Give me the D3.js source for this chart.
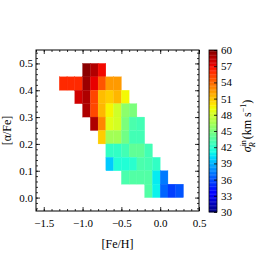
<!DOCTYPE html>
<html>
<head>
<meta charset="utf-8">
<script src="https://cdn.jsdelivr.net/npm/d3@7"></script>
<style>
  body { margin: 0; background: #fff; }
  svg text { font-family: "Liberation Serif", "DejaVu Serif", serif; fill: #000; }
</style>
</head>
<body>
<svg id="chart"></svg>
<script>
// bins: left edge of [Fe/H] bins (width 0.1), lower edge of [alpha/Fe] bins (width 0.05)
const fehBins = [-1.3, -1.2, -1.1, -1.0, -0.9, -0.8, -0.7, -0.6, -0.5, -0.4, -0.3, -0.2, -0.1, 0.0, 0.1, 0.2];
const alphaBins = [0.45, 0.40, 0.35, 0.30, 0.25, 0.20, 0.15, 0.10, 0.05, 0.00];
const _ = null;
// sigma_R^in (km/s), one row per alpha bin, one column per feh bin
const sigmaRows = [
  [_, _, _, 59.7, 58.7, 57.0, _, _, _, _, _, _, _, _, _, _],
  [56.0, 56.0, 56.0, 59.3, 57.3, 54.6, 52.4, 52.4, _, _, _, _, _, _, _, _],
  [_, _, 57.9, 58.8, 55.1, 51.3, 50.8, 51.5, 49.4, _, _, _, _, _, _, _],
  [_, _, _, 58.8, 55.0, 51.5, 49.5, 48.0, 45.6, 45.0, _, _, _, _, _, _],
  [_, _, _, _, 58.8, 53.0, 48.7, 48.2, 45.0, 43.2, 42.9, _, _, _, _, _],
  [_, _, _, _, _, 50.8, 46.4, 46.4, 44.6, 42.9, 42.9, _, _, _, _, _],
  [_, _, _, _, _, _, 42.3, 42.3, 42.9, 44.0, 44.0, 42.9, _, _, _, _],
  [_, _, _, _, _, _, 39.7, 41.7, 41.7, 42.0, 43.2, 43.0, 42.3, _, _, _],
  [_, _, _, _, _, _, _, _, 43.2, 43.5, 43.5, 43.5, 40.7, 37.3, _, _],
  [_, _, _, _, _, _, _, _, _, _, _, 43.5, 40.9, 36.7, 35.6, 36.2]
];
const xTicks = [-1.5, -1.0, -0.5, 0.0, 0.5];
const yTicks = [0.0, 0.1, 0.2, 0.3, 0.4, 0.5];
const cbTicks = [30, 33, 36, 39, 42, 45, 48, 51, 54, 57, 60];

const W = 266, H = 262;
const L = 36, R = 199, T = 50, B = 211;
const svg = d3.select('#chart').attr('width', W).attr('height', H);

const x = d3.scaleLinear().domain([-1.6, 0.5]).range([L, R]);
const y = d3.scaleLinear().domain([-0.05, 0.55]).range([B, T]);

// matplotlib jet
const jr = d3.scaleLinear().domain([0, 0.35, 0.66, 0.89, 1]).range([0, 0, 1, 1, 0.5]).clamp(true);
const jg = d3.scaleLinear().domain([0, 0.125, 0.375, 0.64, 0.91, 1]).range([0, 0, 1, 1, 0, 0]).clamp(true);
const jb = d3.scaleLinear().domain([0, 0.11, 0.34, 0.65, 1]).range([0.5, 1, 1, 0, 0]).clamp(true);
const jet = t => d3.rgb(jr(t) * 255, jg(t) * 255, jb(t) * 255).formatHex();
const color = d3.scaleSequential(jet).domain([30, 60]);

const cells = [];
sigmaRows.forEach((row, i) => row.forEach((v, j) => {
  if (v !== null) cells.push({ feh: fehBins[j], alpha: alphaBins[i], v: v });
}));

svg.append('g').selectAll('rect')
  .data(cells)
  .enter()
  .append('rect')
  .attr('x', d => x(d.feh))
  .attr('y', d => y(d.alpha + 0.05))
  .attr('width', d => x(d.feh + 0.1) - x(d.feh))
  .attr('height', d => y(d.alpha) - y(d.alpha + 0.05))
  .attr('fill', d => color(d.v))
  .attr('stroke', d => color(d.v))
  .attr('stroke-width', 0.3);

// axes with inward ticks on all sides
const fmt = d3.format('.1f');
const xMinor = d3.range(-1.6, 0.51, 0.1).map(v => +v.toFixed(2));
const yMinor = d3.range(-0.04, 0.551, 0.02).map(v => +v.toFixed(2));

function tickSet(axisFn, scale, major, minor, tf, pos) {
  svg.append('g').attr('transform', pos)
    .call(axisFn(scale).tickValues(minor).tickSize(-2).tickFormat(''))
    .call(g => g.select('.domain').remove());
  return svg.append('g').attr('transform', pos)
    .call(axisFn(scale).tickValues(major).tickSize(-4).tickPadding(8).tickFormat(tf))
    .call(g => g.select('.domain').remove());
}
const gx = tickSet(d3.axisBottom, x, xTicks, xMinor, fmt, `translate(0,${B})`);
tickSet(d3.axisTop, x, xTicks, xMinor, '', `translate(0,${T})`);
const gy = tickSet(d3.axisLeft, y, yTicks, yMinor, fmt, `translate(${L},0)`);
tickSet(d3.axisRight, y, yTicks, yMinor, '', `translate(${R},0)`);
svg.selectAll('.tick line').attr('stroke', '#000').attr('stroke-width', 0.8);
gx.selectAll('text').attr('font-size', 11).attr('dy', '0.71em');
gy.selectAll('text').attr('font-size', 11).attr('x', -3);

svg.append('rect')
  .attr('x', L).attr('y', T).attr('width', R - L).attr('height', B - T)
  .attr('fill', 'none').attr('stroke', '#000').attr('stroke-width', 1);

svg.append('text')
  .attr('x', (L + R) / 2).attr('y', 248)
  .attr('text-anchor', 'middle').attr('font-size', 12)
  .text('[Fe/H]');
svg.append('text')
  .attr('transform', `translate(11,${(T + B) / 2}) rotate(-90)`)
  .attr('text-anchor', 'middle').attr('font-size', 12)
  .text('[α/Fe]');

// colorbar
const cbX = 209, cbW = 8, cbT = 50, cbB = 212;
const cy = d3.scaleLinear().domain([30, 60]).range([cbB, cbT]);
const steps = d3.range(30, 60, 0.25);
svg.append('g').selectAll('rect')
  .data(steps)
  .enter()
  .append('rect')
  .attr('x', cbX)
  .attr('y', d => cy(d + 0.25))
  .attr('width', cbW)
  .attr('height', d => cy(d) - cy(d + 0.25) + 0.3)
  .attr('fill', d => color(d + 0.125));
svg.append('rect')
  .attr('x', cbX).attr('y', cbT).attr('width', cbW).attr('height', cbB - cbT)
  .attr('fill', 'none').attr('stroke', '#000').attr('stroke-width', 0.8);
const gc = svg.append('g').attr('transform', `translate(${cbX + cbW},0)`)
  .call(d3.axisRight(cy).tickValues(cbTicks).tickSize(-3).tickPadding(4).tickFormat(d3.format('d')))
  .call(g => g.select('.domain').remove());
gc.selectAll('.tick line').attr('stroke', '#000').attr('stroke-width', 0.8);
gc.selectAll('text').attr('font-size', 11);

const cl = svg.append('text')
  .attr('transform', `translate(251,${(cbT + cbB) / 2 - 5}) rotate(-90)`)
  .attr('text-anchor', 'middle').attr('font-size', 12);
cl.append('tspan').attr('font-style', 'italic').text('σ');
cl.append('tspan').attr('font-size', 8).attr('dy', -5).text('in');
cl.append('tspan').attr('font-size', 8).attr('font-style', 'italic').attr('dx', -7).attr('dy', 9).text('R');
cl.append('tspan').attr('dx', 3).attr('dy', -4).text('(km s');
cl.append('tspan').attr('font-size', 8).attr('dy', -5).text('−1');
cl.append('tspan').attr('dy', 5).text(')');
</script>
</body>
</html>
